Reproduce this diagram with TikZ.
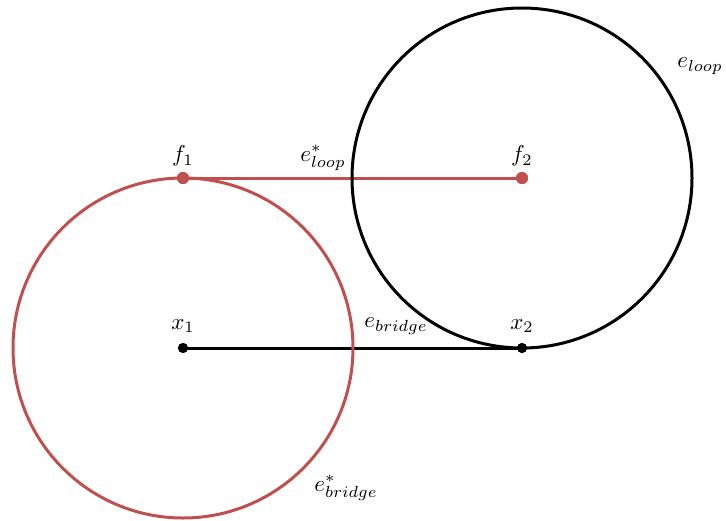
\documentclass[tikz,border=0pt]{standalone}
\definecolor{myred}{RGB}{192,80,77}
\tikzset{
  lbl/.style={inner sep=1pt, scale=2.3},
  reddot/.style={circle, fill=myred, inner sep=0pt, minimum size=12pt},
  blackdot/.style={circle, fill=black, inner sep=0pt, minimum size=10pt},
  ring/.style={line width=3pt}
}
\begin{document}
\begin{tikzpicture}[x=1pt,y=-1pt]
\useasboundingbox (0,0) rectangle (726,520);
\coordinate (c1) at (183,348);
\coordinate (c2) at (522,178);
\node[reddot] (f1) at (183,178) {};
\node[reddot] (f2) at (522,178) {};
\node[blackdot] (x1) at (183,348) {};
\node[blackdot] (x2) at (522,348) {};
\draw[myred, line width=3pt] (f1.center) -- (f2.center);
\draw[black, line width=3pt] (x1.center) -- (x2.center);
\draw[ring, myred] (c1) circle[radius=170];
\draw[ring, black] (c2) circle[radius=170];
\node[reddot] at (f1) {};
\node[reddot] at (f2) {};
\node[blackdot] at (x1) {};
\node[blackdot] at (x2) {};
\node[lbl] (lf1) at (183,156) {$f_1$};
\node[lbl] (lf2) at (522,156) {$f_2$};
\node[lbl] (lx1) at (183,326) {$x_1$};
\node[lbl] (lx2) at (522,326) {$x_2$};
\node[lbl] (lel) at (323,158) {$e^*_{loop}$};
\node[lbl] (eloop) at (700,66) {$e_{loop}$};
\node[lbl] (ebr) at (396,326) {$e_{bridge}$};
\node[lbl] (ebrs) at (346,488) {$e^*_{bridge}$};
\end{tikzpicture}
\end{document}
